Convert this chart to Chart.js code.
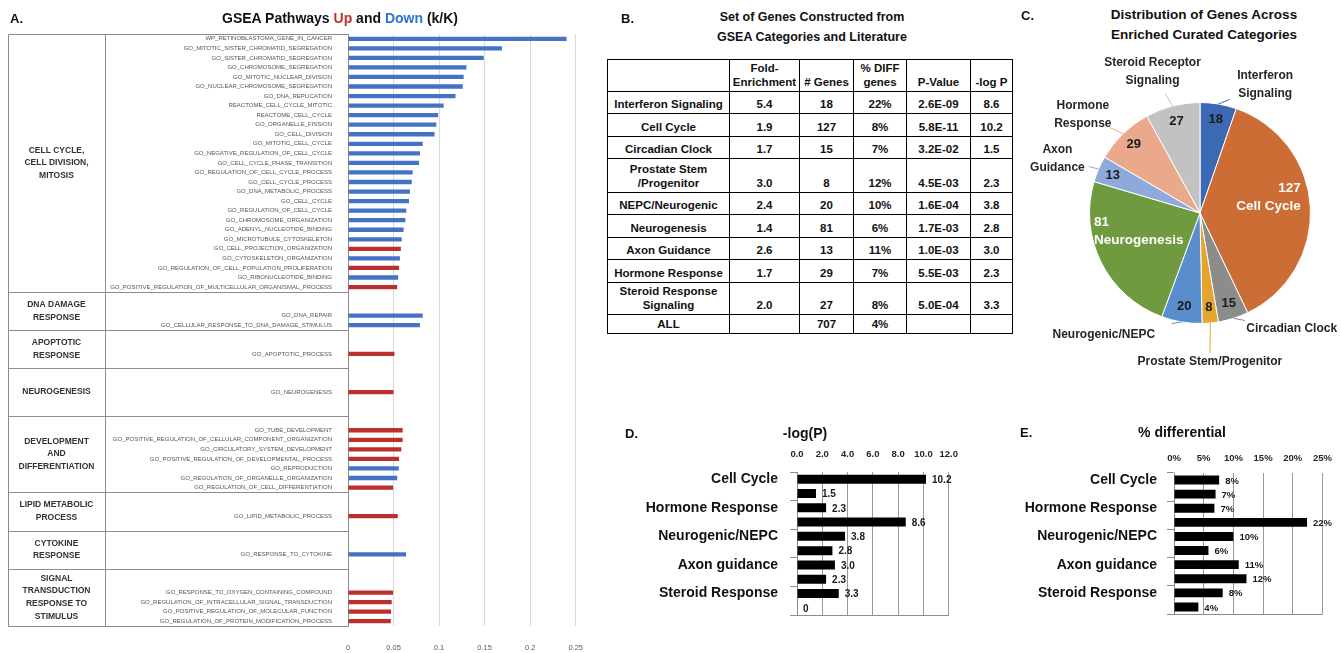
<!DOCTYPE html>
<html><head><meta charset="utf-8">
<script src="https://cdn.jsdelivr.net/npm/chart.js@4.4.0/dist/chart.umd.min.js"></script>
<style>
html,body{margin:0;padding:0;background:#fff;}
body{width:1341px;height:653px;position:relative;overflow:hidden;font-family:"Liberation Sans",Arial,sans-serif;color:#111;}
canvas{position:absolute;}
.t{position:absolute;transform:translate(-50%,-50%);white-space:pre;text-align:center;font-weight:bold;z-index:5;}
.pl{position:absolute;transform:translate(0,-50%);font-weight:bold;font-size:13px;z-index:5;}
table{position:absolute;left:607px;top:59px;border-collapse:collapse;table-layout:fixed;font-weight:bold;font-size:11.5px;color:#111;}
td{border:1px solid #000;text-align:center;vertical-align:bottom;padding:0 1px 2px 1px;line-height:14px;white-space:pre;overflow:hidden;}
</style></head>
<body>
<div class="pl" style="left:10px;top:18px;">A.</div>
<div class="t" style="left:340px;top:18px;font-size:14px;">GSEA Pathways <span style="color:#c0302b">Up</span> and <span style="color:#2f74d0">Down</span> (k/K)</div>
<div class="pl" style="left:621px;top:18px;">B.</div>
<div class="t" style="left:812px;top:27px;font-size:12.5px;line-height:20px;">Set of Genes Constructed from
GSEA Categories and Literature</div>
<div class="pl" style="left:1021px;top:15px;">C.</div>
<div class="t" style="left:1204px;top:25px;font-size:13.5px;line-height:20px;">Distribution of Genes Across
Enriched Curated Categories</div>
<div class="pl" style="left:625px;top:433px;">D.</div>
<div class="t" style="left:805px;top:433px;font-size:14px;">-log(P)</div>
<div class="pl" style="left:1020px;top:432px;">E.</div>
<div class="t" style="left:1182px;top:432px;font-size:14px;">% differential</div>

<canvas id="cA" width="600" height="653" style="left:0;top:0;"></canvas>
<table id="tb"></table>
<canvas id="cC" width="331" height="350" style="left:1010px;top:50px;"></canvas>
<canvas id="cD" width="370" height="230" style="left:600px;top:420px;"></canvas>
<canvas id="cE" width="366" height="230" style="left:975px;top:420px;"></canvas>

<script>
// ---------- Panel A data ----------
const gseaLabels = [
 'WP_RETINOBLASTOMA_GENE_IN_CANCER','GO_MITOTIC_SISTER_CHROMATID_SEGREGATION','GO_SISTER_CHROMATID_SEGREGATION',
 'GO_CHROMOSOME_SEGREGATION','GO_MITOTIC_NUCLEAR_DIVISION','GO_NUCLEAR_CHROMOSOME_SEGREGATION','GO_DNA_REPLICATION',
 'REACTOME_CELL_CYCLE_MITOTIC','REACTOME_CELL_CYCLE','GO_ORGANELLE_FISSION','GO_CELL_DIVISION','GO_MITOTIC_CELL_CYCLE',
 'GO_NEGATIVE_REGULATION_OF_CELL_CYCLE','GO_CELL_CYCLE_PHASE_TRANSITION','GO_REGULATION_OF_CELL_CYCLE_PROCESS',
 'GO_CELL_CYCLE_PROCESS','GO_DNA_METABOLIC_PROCESS','GO_CELL_CYCLE','GO_REGULATION_OF_CELL_CYCLE','GO_CHROMOSOME_ORGANIZATION',
 'GO_ADENYL_NUCLEOTIDE_BINDING','GO_MICROTUBULE_CYTOSKELETON','GO_CELL_PROJECTION_ORGANIZATION','GO_CYTOSKELETON_ORGANIZATION',
 'GO_REGULATION_OF_CELL_POPULATION_PROLIFERATION','GO_RIBONUCLEOTIDE_BINDING','GO_POSITIVE_REGULATION_OF_MULTICELLULAR_ORGANISMAL_PROCESS',
 '','',
 'GO_DNA_REPAIR','GO_CELLULAR_RESPONSE_TO_DNA_DAMAGE_STIMULUS',
 '','',
 'GO_APOPTOTIC_PROCESS',
 '','','',
 'GO_NEUROGENESIS',
 '','','',
 'GO_TUBE_DEVELOPMENT','GO_POSITIVE_REGULATION_OF_CELLULAR_COMPONENT_ORGANIZATION','GO_CIRCULATORY_SYSTEM_DEVELOPMENT',
 'GO_POSITIVE_REGULATION_OF_DEVELOPMENTAL_PROCESS','GO_REPRODUCTION','GO_REGULATION_OF_ORGANELLE_ORGANIZATION','GO_REGULATION_OF_CELL_DIFFERENTIATION',
 '','',
 'GO_LIPID_METABOLIC_PROCESS',
 '','','',
 'GO_RESPONSE_TO_CYTOKINE',
 '','','',
 'GO_RESPONSE_TO_OXYGEN_CONTAINING_COMPOUND','GO_REGULATION_OF_INTRACELLULAR_SIGNAL_TRANSDUCTION',
 'GO_POSITIVE_REGULATION_OF_MOLECULAR_FUNCTION','GO_REGULATION_OF_PROTEIN_MODIFICATION_PROCESS'
];
const gseaValues = [
 0.240,0.169,0.149,0.130,0.127,0.126,0.118,0.105,0.099,0.097,0.095,0.082,0.079,0.078,0.071,0.070,0.068,0.067,0.064,0.063,
 0.061,0.059,0.058,0.057,0.056,0.055,0.054,
 null,null,
 0.082,0.079,
 null,null,
 0.051,
 null,null,null,
 0.050,
 null,null,null,
 0.060,0.060,0.0585,0.056,0.0557,0.054,0.0495,
 null,null,
 0.0546,
 null,null,null,
 0.0637,
 null,null,null,
 0.0495,0.048,0.0472,0.047
];
const gseaDirection = [
 'down','down','down','down','down','down','down','down','down','down','down','down','down','down','down','down','down','down','down','down',
 'down','down','up','down','up','down','up',
 null,null,
 'down','down',
 null,null,
 'up',
 null,null,null,
 'up',
 null,null,null,
 'up','up','up','up','down','down','up',
 null,null,
 'up',
 null,null,null,
 'down',
 null,null,null,
 'up','up','up','up'
];
const gseaGroupNames = ['CELL CYCLE,\nCELL DIVISION,\nMITOSIS','DNA DAMAGE\nRESPONSE','APOPTOTIC\nRESPONSE','NEUROGENESIS',
 'DEVELOPMENT\nAND\nDIFFERENTIATION','LIPID METABOLIC\nPROCESS','CYTOKINE\nRESPONSE','SIGNAL\nTRANSDUCTION\nRESPONSE TO\nSTIMULUS'];
const gseaGroupRows = [[0,26],[27,30],[31,34],[35,39],[40,47],[48,51],[52,55],[56,61]];
const gseaTicks = [0,0.05,0.1,0.15,0.2,0.25];

// ---------- Panel B data ----------
const tableHeader = ['','Fold-\nEnrichment','# Genes','% DIFF\ngenes','P-Value','-log P'];
const tableCategories = ['Interferon Signaling','Cell Cycle','Circadian Clock','Prostate Stem\n/Progenitor','NEPC/Neurogenic','Neurogenesis',
 'Axon Guidance','Hormone Response','Steroid Response\nSignaling','ALL'];
const tableFold = ['5.4','1.9','1.7','3.0','2.4','1.4','2.6','1.7','2.0',''];
const tableGenes = ['18','127','15','8','20','81','13','29','27','707'];
const tablePctDiff = ['22%','8%','7%','12%','10%','6%','11%','7%','8%','4%'];
const tablePValue = ['2.6E-09','5.8E-11','3.2E-02','4.5E-03','1.6E-04','1.7E-03','1.0E-03','5.5E-03','5.0E-04',''];
const tableNegLogP = ['8.6','10.2','1.5','2.3','3.8','2.8','3.0','2.3','3.3',''];

// ---------- Panel C data ----------
const pieCategories = ['Interferon Signaling','Cell Cycle','Circadian Clock','Prostate Stem/Progenitor','Neurogenic/NEPC',
 'Neurogenesis','Axon Guidance','Hormone Response','Steroid Receptor Signaling'];
const pieGenes = [18,127,15,8,20,81,13,29,27];
const pieLabelText = ['Interferon\nSignaling','Cell Cycle','Circadian Clock','Prostate Stem/Progenitor','Neurogenic/NEPC',
 'Neurogenesis','Axon\nGuidance','Hormone\nResponse','Steroid Receptor\nSignaling'];

// ---------- Panels D/E data ----------
const summaryCats = ['Cell Cycle','Circadian Clock','Hormone Response','Interferon Signaling','Neurogenic/NEPC','Neurogenesis',
 'Axon guidance','Prostate Stem/Progenitor','Steroid Response','ALL'];
const negLogPValues = [10.2,1.5,2.3,8.6,3.8,2.8,3.0,2.3,3.3,0];
const pctDiffValues = [7.6,7.0,6.8,22.4,10.0,5.8,10.9,12.2,8.2,4.1];

// ---------- styles ----------
const FONT = '"Liberation Sans", Arial, sans-serif';
Chart.defaults.font.family = FONT;
const RED = '#bb2f2c', BLUE = '#4472c4';
const pieColors = ['#3c69b4','#cb6d35','#8c8c8c','#e3a52b','#5a8dcb','#6f9a40','#8eaadc','#eaa98b','#c2c2c2'];
// outer label placement (relative to pie radius) and leader length
const pieOuter = [{dx:0.59,dy:-1.16,len:12},null,{dx:0.83,dy:1.05,len:12},{dx:0.09,dy:1.35,len:30},{dx:-0.87,dy:1.10,len:10},
 null,{dx:-1.29,dy:-0.49,len:10},{dx:-1.06,dy:-0.89,len:15},{dx:-0.43,dy:-1.28,len:14}];

// ---------- Panel A ----------
const groupBoxPlugin = {
  id:'groupBox',
  afterDraw(chart){
    const {ctx, chartArea, scales:{y}} = chart;
    const L = 8, D = 105, R = Math.round(chartArea.left);
    const step = y.getPixelForValue(1) - y.getPixelForValue(0);
    const top = Math.round(chartArea.top)+0.5, bot = Math.round(chartArea.bottom)+0.5;
    ctx.save();
    ctx.strokeStyle = '#8c8c8c'; ctx.lineWidth = 1;
    ctx.beginPath();
    ctx.moveTo(L+0.5, top); ctx.lineTo(R, top);
    ctx.moveTo(L+0.5, bot); ctx.lineTo(R, bot);
    ctx.moveTo(L+0.5, top); ctx.lineTo(L+0.5, bot);
    ctx.moveTo(D+0.5, top); ctx.lineTo(D+0.5, bot);
    gseaGroupRows.forEach((g,i)=>{
      if(i===0) return;
      const yy = Math.round(y.getPixelForValue(g[0]) - step/2)+0.5;
      ctx.moveTo(L+0.5, yy); ctx.lineTo(R, yy);
    });
    ctx.stroke();
    ctx.fillStyle = '#333'; ctx.font = 'bold 8.5px '+FONT; ctx.textAlign='center'; ctx.textBaseline='middle';
    gseaGroupRows.forEach((g,i)=>{
      const cy = (y.getPixelForValue(g[0]) + y.getPixelForValue(g[1]))/2;
      const lines = gseaGroupNames[i].split('\n');
      const lh = 12.7;
      lines.forEach((t,k)=>ctx.fillText(t, (L+D)/2, cy + (k-(lines.length-1)/2)*lh));
    });
    ctx.restore();
  }
};
new Chart(document.getElementById('cA'), {
  type:'bar',
  data:{labels:gseaLabels, datasets:[{data:gseaValues, backgroundColor:gseaDirection.map(d=>d==='up'?RED:BLUE),
    barPercentage:0.45, categoryPercentage:1}]},
  options:{indexAxis:'y', responsive:false, animation:false,
    layout:{padding:{top:34,right:23,left:8,bottom:0}},
    plugins:{legend:{display:false}, tooltip:{enabled:false}},
    scales:{
      x:{min:0,max:0.25, afterBuildTicks(s){s.ticks = gseaTicks.map(v=>({value:v}));},
         ticks:{font:{size:7.5}, color:'#595959', padding:17, callback:v=>String(+(+v).toFixed(2))},
         grid:{color:'#d9d9d9', drawTicks:false}, border:{display:false}, afterFit(s){s.height=27;}},
      y:{ticks:{autoSkip:false, font:{size:6}, color:'#555', padding:8},
         grid:{display:false}, border:{color:'#8c8c8c'}, afterFit(s){s.width=340;}}
    }},
  plugins:[groupBoxPlugin]
});

// ---------- Panel B table ----------
(function(){
  const tb = document.getElementById('tb');
  const colW = [122,70,54,53,64,42];
  const rowH = [32,22,23,22,34,22,23,22,23,32,19];
  const cg = document.createElement('colgroup');
  colW.forEach(w=>{const c=document.createElement('col'); c.style.width=w+'px'; cg.appendChild(c);});
  tb.appendChild(cg);
  tb.style.width = colW.reduce((a,b)=>a+b,0)+'px';
  const rows = [tableHeader];
  tableCategories.forEach((c,i)=>rows.push([c,tableFold[i],tableGenes[i],tablePctDiff[i],tablePValue[i],tableNegLogP[i]]));
  rows.forEach((r,i)=>{
    const tr = document.createElement('tr');
    r.forEach(v=>{const td=document.createElement('td'); td.textContent=v; td.style.height=(rowH[i]-3)+'px'; tr.appendChild(td);});
    tb.appendChild(tr);
  });
})();

// ---------- Panel C pie ----------
const pieLabelPlugin = {
  id:'pieLabels',
  afterDatasetsDraw(chart){
    const ctx = chart.ctx, meta = chart.getDatasetMeta(0);
    ctx.save();
    ctx.textBaseline = 'middle';
    meta.data.forEach((arc,i)=>{
      const p = arc.getProps(['x','y','startAngle','endAngle','outerRadius'], true);
      const mid = (p.startAngle+p.endAngle)/2, r = p.outerRadius;
      const c = Math.cos(mid), s = Math.sin(mid);
      const v = pieGenes[i];
      if(!pieOuter[i]){
        const cx = p.x + c*r*0.62, cy = p.y + s*r*0.62 - 12;
        ctx.fillStyle = '#fff'; ctx.font = 'bold 13.5px '+FONT;
        const lines = [String(v), pieLabelText[i]];
        const w = Math.max(...lines.map(t=>ctx.measureText(t).width));
        ctx.textAlign = c >= 0 ? 'right' : 'left';
        const ax = c >= 0 ? cx + w/2 : cx - w/2;
        lines.forEach((t,k)=>ctx.fillText(t, ax, cy + (k-0.5)*18));
      } else {
        ctx.fillStyle = '#1a1a1a'; ctx.font = 'bold 13px '+FONT; ctx.textAlign='center';
        ctx.fillText(String(v), p.x + c*r*0.86, p.y + s*r*0.86);
        const o = pieOuter[i];
        const lx = p.x + o.dx*r, ly = p.y + o.dy*r;
        const ex = p.x + c*r, ey = p.y + s*r;
        const d = Math.hypot(lx-ex, ly-ey), ux = (lx-ex)/d, uy = (ly-ey)/d;
        ctx.strokeStyle = pieColors[i]; ctx.lineWidth = 1;
        ctx.beginPath(); ctx.moveTo(ex,ey); ctx.lineTo(ex+ux*o.len, ey+uy*o.len); ctx.stroke();
        ctx.fillStyle = '#262626'; ctx.font = 'bold 12px '+FONT;
        const lines = pieLabelText[i].split('\n');
        lines.forEach((t,k)=>ctx.fillText(t, lx, ly + (k-(lines.length-1)/2)*18));
      }
    });
    ctx.restore();
  }
};
new Chart(document.getElementById('cC'), {
  type:'pie',
  data:{labels:pieCategories, datasets:[{data:pieGenes, backgroundColor:pieColors, borderColor:'#ffffff', borderWidth:1}]},
  options:{responsive:false, animation:false, layout:{padding:{left:79,right:30,top:52,bottom:76}},
    plugins:{legend:{display:false}, tooltip:{enabled:false}}},
  plugins:[pieLabelPlugin]
});

// ---------- Panels D / E ----------
function summaryChart(id, values, opt){
  const valuePlugin = {
    id:'vals',
    afterDatasetsDraw(chart){
      const {ctx, chartArea} = chart, meta = chart.getDatasetMeta(0);
      ctx.save();
      ctx.strokeStyle = '#8c8c8c'; ctx.lineWidth = 1;
      ctx.beginPath(); ctx.moveTo(chartArea.left-7, Math.round(chartArea.bottom)+0.5); ctx.lineTo(chartArea.right, Math.round(chartArea.bottom)+0.5); ctx.stroke();
      ctx.fillStyle = '#1a1a1a'; ctx.font = 'bold '+opt.valFont+'px '+FONT; ctx.textAlign='left'; ctx.textBaseline='middle';
      meta.data.forEach((bar,i)=>ctx.fillText(opt.fmt(values[i]), bar.x+6, bar.y+1));
      ctx.restore();
    }
  };
  new Chart(document.getElementById(id), {
    type:'bar',
    data:{labels:summaryCats, datasets:[{data:values, backgroundColor:'#000', barPercentage:0.63, categoryPercentage:1}]},
    options:{indexAxis:'y', responsive:false, animation:false,
      layout:{padding:{top:0,left:0,right:opt.padR,bottom:opt.padB}},
      plugins:{legend:{display:false}, tooltip:{enabled:false}},
      scales:{
        x:{position:'top', min:0, max:opt.max, ticks:{stepSize:opt.step, callback:opt.tick, font:{size:9.5,weight:'bold'}, color:'#262626', padding:opt.tickPad},
           grid:{color:'#9a9a9a', drawTicks:false}, border:{display:false}, afterFit(s){s.height=opt.xH;}},
        y:{ticks:{autoSkip:false, callback:(v,i)=>i%2===0?summaryCats[i]:'', font:{size:14,weight:'bold'}, color:'#111', padding:opt.yPad},
           grid:{drawOnChartArea:false, tickLength:7, color:ctx=>ctx.index%2===0?'#8c8c8c':'rgba(0,0,0,0)'},
           border:{color:'#8c8c8c'}, afterFit(s){s.width=opt.yW;}}
      }},
    plugins:[valuePlugin]
  });
}
summaryChart('cD', negLogPValues, {max:12, step:2, tick:v=>(+v).toFixed(1), fmt:v=>v===0?'0':v.toFixed(1),
  padR:19, padB:35, xH:52, tickPad:12, yW:197, yPad:12, valFont:10});
summaryChart('cE', pctDiffValues, {max:25, step:5, tick:v=>v+'%', fmt:v=>Math.round(v)+'%',
  padR:12, padB:36, xH:53, tickPad:9, yW:199, yPad:10, valFont:9.5});
</script>
</body></html>
